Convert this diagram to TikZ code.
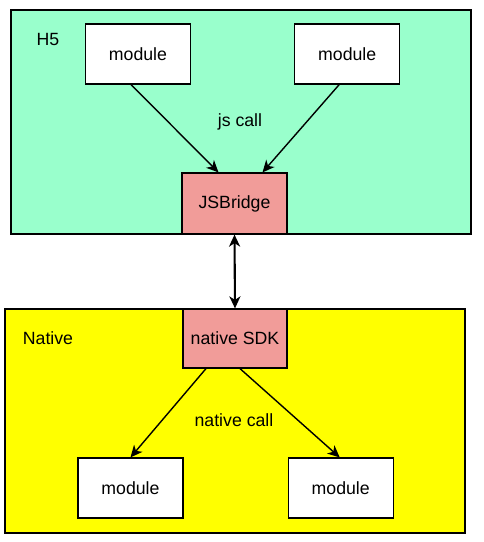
\documentclass[tikz,border=0pt]{standalone}
\usepackage{fontspec}
\setmainfont{Liberation Sans}
\usepackage{xcolor}
\usetikzlibrary{arrows.meta, positioning, calc}

\definecolor{hgreen}{HTML}{99FFCC}
\definecolor{nyellow}{HTML}{FFFF00}
\definecolor{bpink}{HTML}{F19C99}

\begin{document}
\begin{tikzpicture}[
  x=1pt, y=-1pt,
  layer/.style={draw, line width=1.4pt, fill=#1, minimum width=460pt,
                minimum height=224pt, inner sep=0pt},
  box/.style={draw, line width=1.2pt, fill=#1, minimum width=105pt,
              minimum height=60pt, inner sep=0pt,
              font=\fontsize{17.7}{20}\selectfont},
  box/.default=white,
  lbl/.style={font=\fontsize{17.7}{20}\selectfont},
  arr/.style={-{Stealth[length=12pt, width=11pt, inset=3.5pt]}, line width=1.4pt},
  darr/.style={{Stealth[length=12pt, width=11pt, inset=3.5pt]}-{Stealth[length=12pt, width=11pt, inset=3.5pt]},
               line width=2.1pt},
]
  \useasboundingbox (0,0) rectangle (483,542);

  % H5 side
  \node[layer=hgreen] (h5) at (241,122) {};
  \node[lbl] (h5lbl) at (48,39) {H5};
  \node[box] (mod1) at (138,54) {module};
  \node[box, right=103pt of mod1] (mod2) {module};
  \node[box=bpink, minimum height=61pt] (jsb) at (234.5,203.5) {JSBridge};
  \node[lbl] (jscall) at (240,122) {js call};

  % Native side
  \node[layer=nyellow] (native) at (235,421) {};
  \node[lbl] (natlbl) at (48,338) {Native};
  \node[box=bpink, minimum width=104pt, minimum height=59pt] (sdk) at (235,338.5) {native SDK};
  \node[box] (mod3) at (130.5,488) {module};
  \node[box, right=104pt of mod3] (mod4) {module};
  \node[lbl] (natcall) at (234,420) {native call};

  \draw[arr] ([xshift=-7pt]mod1.south) -- ([xshift=-16pt]jsb.north);
  \draw[arr] ([xshift=-8pt]mod2.south) -- ([xshift=28pt]jsb.north);
  \draw[darr] (jsb.south) -- (sdk.north);
  \draw[arr] ([xshift=-29pt]sdk.south) -- (mod3.north);
  \draw[arr] ([xshift=5pt]sdk.south) -- ([xshift=-1pt]mod4.north);
\end{tikzpicture}
\end{document}
